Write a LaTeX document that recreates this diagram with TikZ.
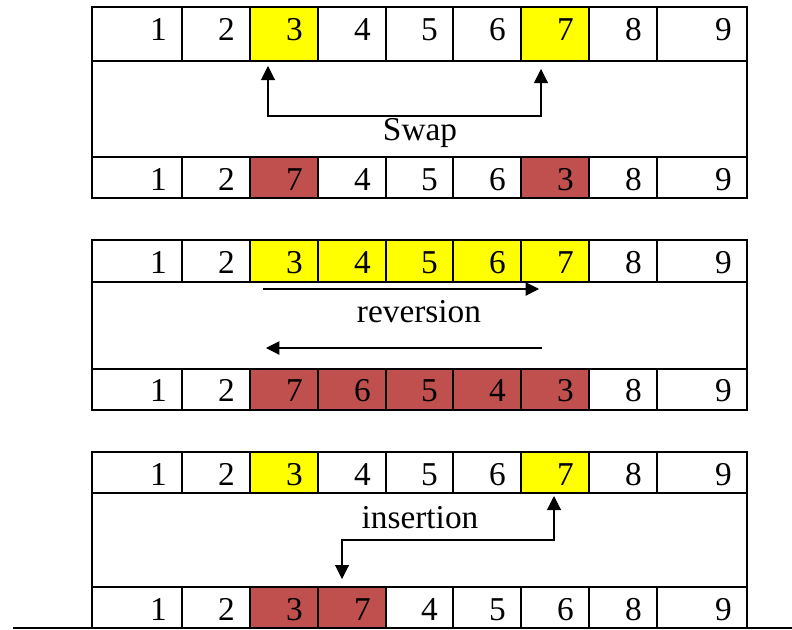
\documentclass[tikz,border=0pt]{standalone}
\usepackage{fontspec}
\setmainfont{Liberation Serif}
\usetikzlibrary{positioning}
\usetikzlibrary{calc}
\usetikzlibrary{arrows.meta}

\definecolor{picked}{RGB}{255,255,0}
\definecolor{moved}{RGB}{192,80,77}

% nine cells of one row: name, top, bottom, baseline, digit/fill list
\newcommand{\cellrow}[5]{
    \foreach \n/\f [count=\i] in {#5} {
        \pgfmathsetmacro{\xl}{{92,182,250,318,386,453,521,589,657,747}[\i-1]}
        \pgfmathsetmacro{\xr}{{92,182,250,318,386,453,521,589,657,747}[\i]}
        \fill[\f] (\xl,#2) rectangle (\xr,#3);
        \node[digit] (#1-\i) at (\xr-15,#4) {\n};
        \draw[grid] (\xl,#2) -- (\xl,#3);
    }
}

\begin{document}
\begin{tikzpicture}[x=0.75pt, y=-0.75pt,
    grid/.style={line width=1.3pt},
    digit/.style={anchor=base east, inner sep=0pt, font=\fontsize{25}{30}\selectfont},
    label/.style={anchor=base, inner sep=0pt, font=\fontsize{25}{30}\selectfont},
    link/.style={line width=0.8pt, {Triangle[width=10.5pt,length=10.5pt]}-{Triangle[width=10.5pt,length=10.5pt]}},
    oneway/.style={line width=0.8pt, -{Triangle[width=10pt,length=10pt]}}]

    \useasboundingbox (0,0) rectangle (792,629);

    % swap
    \cellrow{swaptop}{7}{61}{40}{1/white,2/white,3/picked,4/white,5/white,6/white,7/picked,8/white,9/white}
    \cellrow{swapbot}{157}{198}{190}{1/white,2/white,7/moved,4/white,5/white,6/white,3/moved,8/white,9/white}
    \draw[grid] (92,7) rectangle (747,198);
    \draw[grid] (92,61) -- (747,61);
    \draw[grid] (92,157) -- (747,157);

    \node[label] (swap) at (420,140) {Swap};
    \coordinate (swapA) at (268,66);
    \coordinate (swapB) at (541,69);
    \draw[link] (swapA) -- ++(0,50) -| (swapB);

    % reversion
    \cellrow{revtop}{240}{282}{273}{1/white,2/white,3/picked,4/picked,5/picked,6/picked,7/picked,8/white,9/white}
    \cellrow{revbot}{369}{410}{401}{1/white,2/white,7/moved,6/moved,5/moved,4/moved,3/moved,8/white,9/white}
    \draw[grid] (92,240) rectangle (747,410);
    \draw[grid] (92,282) -- (747,282);
    \draw[grid] (92,369) -- (747,369);

    \node[label] (rev) at (419,322) {reversion};
    \coordinate (revA) at (263,289);
    \coordinate (revB) at (539,289);
    \coordinate (revC) at (542,348);
    \coordinate (revD) at (266,348);
    \draw[oneway] (revA) -- (revB);
    \draw[oneway] (revC) -- (revD);

    % insertion
    \cellrow{instop}{452}{493}{485}{1/white,2/white,3/picked,4/white,5/white,6/white,7/picked,8/white,9/white}
    \cellrow{insbot}{587}{628}{620}{1/white,2/white,3/moved,7/moved,4/white,5/white,6/white,8/white,9/white}
    \draw[grid] (92,628) -- (92,452) -- (747,452) -- (747,628);
    \draw[grid] (92,493) -- (747,493);
    \draw[grid] (92,587) -- (747,587);
    \coordinate (lineL) at (13,628);
    \coordinate (lineR) at (792,628);
    \draw[grid] (lineL) -- (lineR);

    \node[label] (ins) at (420,528) {insertion};
    \coordinate (insA) at (554,496);
    \coordinate (insB) at (342,579);
    \draw[link] (insA) -- ++(0,44) -| (insB);

\end{tikzpicture}
\end{document}
